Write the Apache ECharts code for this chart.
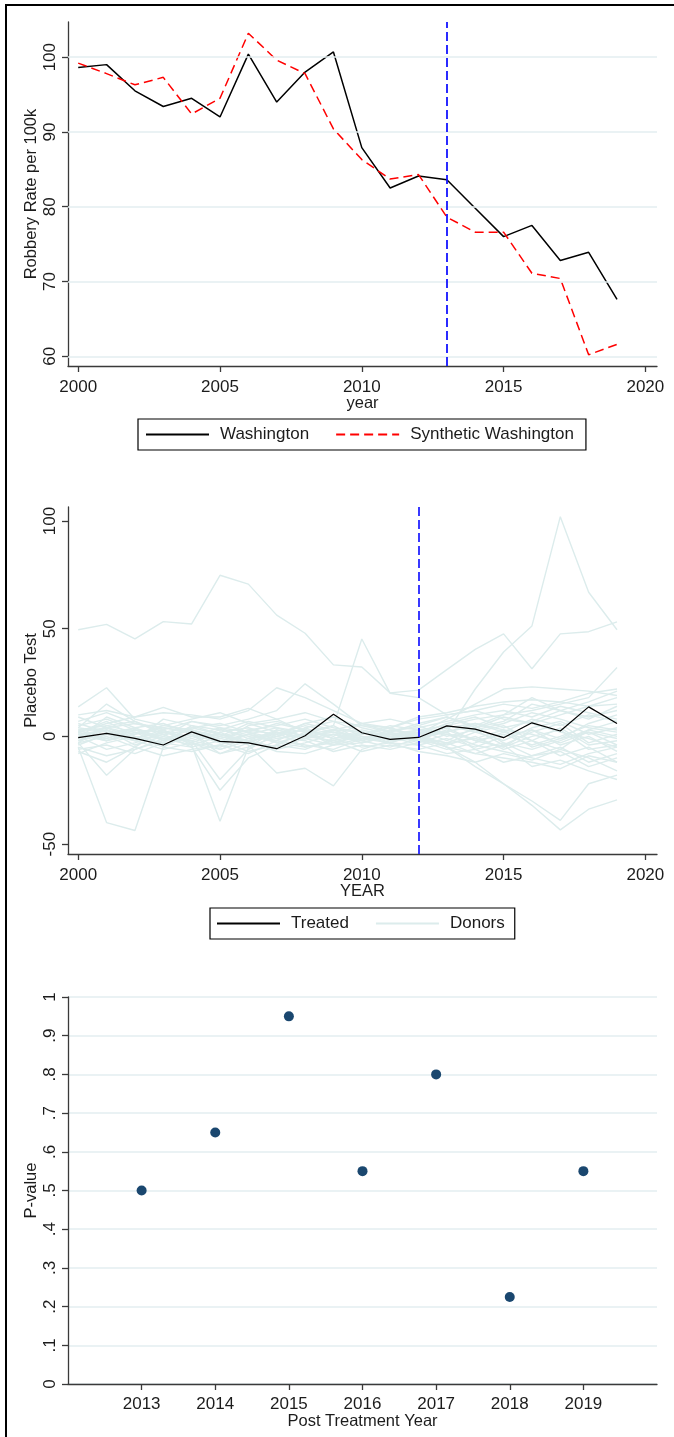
<!DOCTYPE html>
<html><head><meta charset="utf-8">
<script src="https://cdn.jsdelivr.net/npm/echarts@6/dist/echarts.min.js"></script>
<style>html,body{margin:0;padding:0;background:#fff}#c{width:674px;height:1437px}</style>
</head><body><div id="c"></div>
<script>
// ---------- data ----------
const years = [2000,2001,2002,2003,2004,2005,2006,2007,2008,2009,2010,2011,2012,2013,2014,2015,2016,2017,2018,2019];
const washington = [98.6,99.0,95.5,93.4,94.5,92.0,100.4,94.0,98.0,100.7,87.9,82.5,84.1,83.6,79.8,76.0,77.5,72.8,73.9,67.6];
const synthWashington = [99.2,97.8,96.3,97.3,92.4,94.5,103.2,99.6,97.8,90.4,86.3,83.7,84.3,78.6,76.6,76.6,71.1,70.4,60.2,61.6];
const treatmentYearTop = 2013;
const treated = [-0.6,1.4,-0.9,-4.0,2.1,-2.3,-3.0,-5.7,0.3,10.3,1.7,-1.4,-0.5,4.9,3.4,-0.6,6.3,2.5,13.7,6.0];
const treatmentYearMid = 2012;
const donors = [
  [49.5,52.0,45.3,53.3,52.2,74.8,70.7,56.3,47.9,33.2,32.2,20.2,21.5,31.0,40.4,47.6,31.4,47.6,48.6,53.2],
  [3,-2,1,4,2,-1,3,1,5,2,0,-3,2,2,22,39.2,51.3,102,66.9,49.5],
  [-3,5,2,-1,3,0,6,8,2,5,45.2,20,18,10,12,8,6,10,14,18],
  [-5,-40,-43.7,-5,2,-3,1,-2,4,-1,3,0,-2,5,3,-4,2,6,-3,1],
  [2,4,-1,3,-4,-39.4,-5,3,0,-2,1,4,-1,-3,2,5,-2,-6,3,0],
  [-3,-18,-6,-2,1,-8,-3,2,-1,3,-2,1,0,-5,-8,-10,-12,-15,-9,-12],
  [0,3,-2,1,-5,-25,-10,-4,2,-3,0,-1,3,2,-6,-3,-9,-5,-12,-8],
  [1,-2,3,0,-3,2,-4,-17,-14.8,-23,-6,-2,1,4,-2,-5,3,-1,2,-4],
  [4,2,-1,-3,5,1,-2,3,0,2,-3,1,2,-5,-14,-22,-32,-43.4,-33.8,-29.5],
  [-2,1,4,-1,-2,-20,-6,1,3,-1,2,-2,-1,-5,-12,-22,-30,-39,-22,-18],
  [1,3,-1,2,4,1,-2,0,3,-1,2,1,-3,5,8,10,12,15,18,32],
  [13.7,22.6,8,5,3,-2,1,4,0,2,-1,3,1,4,6,2,8,5,10,7],
  [2,6,9,11,10,8,12,22.6,18,12,6,4,8,10,12,15,13,16,20,22],
  [-1,4,6,3,7,5,8,12,24.4,15,5,2,6,9,5,10,18,12,16,21],
  [10,12,9,13.5,9,9,13,8,11,7,5,4,9,11,14,16,17,16,14,15],
  [1,-1,3,2,0,4,2,-1,1,3,2,0,1,8,15,22,23,22,21,19],
  [5,8,3,-2,4,6,2,-3,1,5,-2,3,4,7,10,12,9,14,11,8],
  [-6,-4,-8,-3,-5,-2,-7,-4,-6,-1,-5,-3,-4,-8,-6,-12,-9,-7,-14,-10],
  [2,-1,4,6,1,-3,5,7,3,0,6,2,-1,3,-2,1,-4,0,5,3],
  [-2,3,-4,0,7,4,-1,2,-5,-3,1,5,3,-2,4,9,6,2,-1,-5],
  [7,11,6,4,2,0,3,5,8,4,2,-1,0,2,5,-3,-6,-2,3,7],
  [-4,1,-2,-6,-3,-8,-5,0,-2,-7,-4,-6,-3,1,-4,-7,-10,-13,-8,-5],
  [0,-6,-3,2,-1,3,7,4,2,-4,-1,2,5,0,3,6,11,8,4,2],
  [3,5,7,2,-2,-5,-1,1,6,9,4,1,-2,-4,0,-6,-2,-9,-5,-12],
  [-8,-3,0,-5,-7,-4,1,-3,-5,-2,-7,-4,-6,-3,-8,-4,-14,-11,-16,-20],
  [6,2,-2,8,5,3,0,-2,4,7,2,-3,1,6,9,4,7,12,8,14],
  [-1,9,4,-2,1,-6,-2,-5,-1,1,-3,0,-2,-6,-3,2,-2,4,-4,-2],
  [1,-2,2,-4,0,1,-3,2,-1,-4,2,-2,3,1,-1,3,1,-3,2,-1],
  [4,15,7,1,3,-1,2,6,3,-1,1,4,0,-3,-1,-5,0,3,-6,-4],
  [-5,-9,-6,-1,-4,0,-3,-6,-3,1,-2,-5,-1,2,6,3,-5,-1,6,10],
  [9,4,1,5,8,11,6,2,-1,3,6,8,5,9,4,7,15,12,9,12],
  [-3,0,-5,-9,-6,-4,-8,-2,-4,-6,-1,-3,-7,-9,-12,-8,-11,-6,-10,-16],
  [2,7,0,-1,-2,2,4,0,6,3,-1,1,3,5,2,-2,4,7,1,4],
  [-7,-12,-5,3,-3,-6,-2,-7,-8,-4,-3,0,-4,-1,-5,0,3,-4,0,-7]
];
const postYears = [2013,2014,2015,2016,2017,2018,2019];
const pValues = [0.5,0.65,0.95,0.55,0.8,0.225,0.55];
const yearTicks = [2000,2005,2010,2015,2020];
const topYTicks = [60,70,80,90,100];
const midYTicks = [-50,0,50,100];
const pTickLabels = ['0','.1','.2','.3','.4','.5','.6','.7','.8','.9','1'];

// ---------- styles ----------
const FONT = '"Liberation Sans", Arial, Helvetica, sans-serif';
const TXT = '#1c1c1c';
const AX = '#3a3a3a';
const GRIDC = '#e3eef0';
const DONORC = '#dcecec';
const FS = 17;
const FST = 16.5;

const pairs = (xs, ys) => xs.map((x, i) => [x, ys[i]]);
const txt = (size, extra) => Object.assign({fontSize: size, color: TXT, fontFamily: FONT}, extra || {});
const plain = v => String(Math.round(v));

function xYearAxis(gridIndex, name) {
  return {
    type: 'value', gridIndex, min: 1999.64, max: 2020.41,
    name, nameLocation: 'middle', nameGap: 29, nameTextStyle: txt(FST), nameMoveOverlap: false,
    axisLine: {onZero: false, lineStyle: {color: AX, width: 1.3}},
    axisTick: {customValues: yearTicks, length: 6, lineStyle: {color: AX, width: 1.3}},
    axisLabel: Object.assign({customValues: yearTicks, margin: 13, formatter: plain}, txt(FS)),
    splitLine: {show: false}
  };
}
function yAxisCustom(gridIndex, min, max, ticks, name) {
  return {
    type: 'value', gridIndex, min, max,
    name, nameLocation: 'middle', nameGap: 28, nameTextStyle: txt(FST), nameMoveOverlap: false,
    axisLine: {show: true, onZero: false, lineStyle: {color: AX, width: 1.3}},
    axisTick: {show: true, customValues: ticks, length: 6, lineStyle: {color: AX, width: 1.3}},
    axisLabel: Object.assign({customValues: ticks, margin: 9, rotate: 90, formatter: plain}, txt(FS)),
    splitLine: {show: false}
  };
}

const series = [];
// top chart gridlines (reference lines at tick values)
series.push({
  name: 'gridTop', type: 'line', xAxisIndex: 0, yAxisIndex: 0, data: [], z: 1, silent: true,
  markLine: {silent: true, symbol: ['none', 'none'], label: {show: false}, animation: false,
    lineStyle: {color: GRIDC, width: 1.5, type: 'solid'}, emphasis: {disabled: true},
    data: topYTicks.map(v => ({yAxis: v}))}
});
series.push({
  name: 'Washington', type: 'line', xAxisIndex: 0, yAxisIndex: 0, z: 3,
  data: pairs(years, washington), symbol: 'none', showSymbol: false,
  lineStyle: {color: '#000', width: 1.5}, itemStyle: {color: '#000'}
});
series.push({
  name: 'Synthetic Washington', type: 'line', xAxisIndex: 0, yAxisIndex: 0, z: 3,
  data: pairs(years, synthWashington), symbol: 'none', showSymbol: false,
  lineStyle: {color: '#ff0000', width: 1.5, type: [9, 5]}, itemStyle: {color: '#ff0000'}
});
series.push({
  name: 'vTop', type: 'line', xAxisIndex: 0, yAxisIndex: 0, data: [], z: 4, silent: true,
  markLine: {silent: true, symbol: ['none', 'none'], label: {show: false}, animation: false,
    lineStyle: {color: '#1414ff', width: 1.8, type: [9, 4]}, emphasis: {disabled: true},
    data: [{xAxis: treatmentYearTop}]}
});
// middle chart
donors.forEach(d => series.push({
  name: 'Donors', type: 'line', xAxisIndex: 1, yAxisIndex: 1, z: 2,
  data: pairs(years, d), symbol: 'none', showSymbol: false,
  lineStyle: {color: DONORC, width: 1.4}, itemStyle: {color: DONORC}
}));
series.push({
  name: 'Treated', type: 'line', xAxisIndex: 1, yAxisIndex: 1, z: 3,
  data: pairs(years, treated), symbol: 'none', showSymbol: false,
  lineStyle: {color: '#000', width: 1.2}, itemStyle: {color: '#000'}
});
series.push({
  name: 'vMid', type: 'line', xAxisIndex: 1, yAxisIndex: 1, data: [], z: 4, silent: true,
  markLine: {silent: true, symbol: ['none', 'none'], label: {show: false}, animation: false,
    lineStyle: {color: '#2424ff', width: 1.8, type: [9, 4]}, emphasis: {disabled: true},
    data: [{xAxis: treatmentYearMid}]}
});
// bottom chart
series.push({
  name: 'P-value', type: 'scatter', xAxisIndex: 2, yAxisIndex: 2, z: 3,
  data: pairs(postYears, pValues), symbol: 'circle', symbolSize: 10,
  itemStyle: {color: '#1a476f', opacity: 1}
});

const legendBase = {
  orient: 'horizontal', borderColor: '#000', borderWidth: 1.2, borderRadius: 0,
  itemWidth: 63, itemHeight: 14, itemGap: 26,
  itemStyle: {opacity: 0},
  textStyle: txt(FS, {padding: [0, 0, 0, 6]}), selectedMode: false, inactiveColor: '#000'
};

const option = {
  animation: false,
  backgroundColor: '#fff',
  textStyle: {fontFamily: FONT},
  grid: [
    {left: 68, top: 22, width: 589, height: 344, containLabel: false},
    {left: 68, top: 507, width: 589, height: 347, containLabel: false},
    {left: 68, top: 997, width: 589, height: 387, containLabel: false}
  ],
  xAxis: [
    xYearAxis(0, 'year'),
    xYearAxis(1, 'YEAR'),
    {
      type: 'value', gridIndex: 2, min: 2012, max: 2020,
      name: 'Post Treatment Year', nameLocation: 'middle', nameGap: 29, nameTextStyle: txt(FST), nameMoveOverlap: false,
      axisLine: {onZero: false, lineStyle: {color: AX, width: 1.3}},
      axisTick: {customValues: postYears, length: 6, lineStyle: {color: AX, width: 1.3}},
      axisLabel: Object.assign({customValues: postYears, margin: 12, formatter: plain}, txt(FS)),
      splitLine: {show: false}
    }
  ],
  yAxis: [
    yAxisCustom(0, 58.7, 104.7, topYTicks, 'Robbery Rate per 100k'),
    yAxisCustom(1, -54.6, 106.5, midYTicks, 'Placebo Test'),
    {
      type: 'value', gridIndex: 2, min: 0, max: 1, interval: 0.1,
      name: 'P-value', nameLocation: 'middle', nameGap: 28, nameTextStyle: txt(FST), nameMoveOverlap: false,
      axisLine: {show: true, onZero: false, lineStyle: {color: AX, width: 1.3}},
      axisTick: {show: true, length: 6, lineStyle: {color: AX, width: 1.3}},
      axisLabel: Object.assign({margin: 9, rotate: 90,
        formatter: v => pTickLabels[Math.round(v * 10)]}, txt(FS)),
      splitLine: {show: true, lineStyle: {color: GRIDC, width: 1.5}}
    }
  ],
  legend: [
    Object.assign({}, legendBase, {data: ['Washington', 'Synthetic Washington'], left: 138, top: 419, padding: [7, 12, 7, 7]}),
    Object.assign({}, legendBase, {data: ['Treated', 'Donors'], left: 210, top: 908, padding: [7, 10, 7, 6]})
  ],
  graphic: [
    {type: 'rect', shape: {x: 6, y: 5, width: 720, height: 1500}, style: {fill: 'none', stroke: '#000', lineWidth: 2}, silent: true, z: 100}
  ],
  series
};

const chart = echarts.init(document.getElementById('c'), null, {renderer: 'canvas'});
chart.setOption(option);
</script>
</body></html>
